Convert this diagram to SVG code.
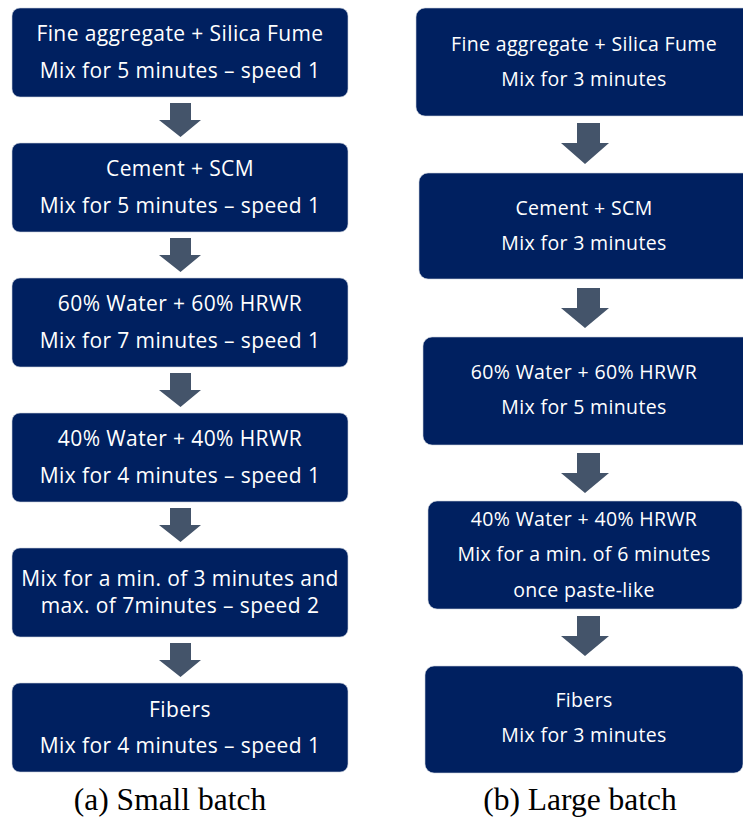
<svg xmlns="http://www.w3.org/2000/svg" width="743" height="818" viewBox="0 0 743 818">
<style>
.box{fill:#002060;stroke:#c9d0dc;stroke-width:0.6}
.arr{fill:#44546a}
.t{font-family:"Open Sans","Noto Sans",sans-serif;fill:#ffffff;text-anchor:middle}
.l{font-size:21px;letter-spacing:0.4px}
.r{font-size:19.5px;letter-spacing:0.35px}
.cap{font-family:"Liberation Serif","Times New Roman",serif;font-size:31.5px;fill:#000;text-anchor:middle}
</style>
<rect width="743" height="818" fill="#ffffff"/>
<g id="connectors">
<path class="arr" d="M170,103H191V120H201L180.5,137L159,120H170Z"/>
<path class="arr" d="M170,238H191V255H201L180.5,272L159,255H170Z"/>
<path class="arr" d="M170,373H191V390H201L180.5,407L159,390H170Z"/>
<path class="arr" d="M170,508H191V525H201L180.5,542L159,525H170Z"/>
<path class="arr" d="M170,643H191V660H201L180.5,677L159,660H170Z"/>
<path class="arr" d="M577,123H600V143H609L585,164L561,143H577Z"/>
<path class="arr" d="M577,288H600V308H609L585,328L561,308H577Z"/>
<path class="arr" d="M577,453H600V473H609L585,493L561,473H577Z"/>
<path class="arr" d="M577,616H600V636H609L585,656L561,636H577Z"/>
</g>
<g id="a1"><rect class="box" x="12" y="8" width="336" height="89" rx="8"/>
<text class="t l" x="180" y="41">Fine aggregate + Silica Fume</text>
<text class="t l" x="180" y="78">Mix for 5 minutes – speed 1</text></g>
<g id="a2"><rect class="box" x="12" y="143" width="336" height="89" rx="8"/>
<text class="t l" x="180" y="176">Cement + SCM</text>
<text class="t l" x="180" y="213">Mix for 5 minutes – speed 1</text></g>
<g id="a3"><rect class="box" x="12" y="278" width="336" height="89" rx="8"/>
<text class="t l" x="180" y="311">60% Water + 60% HRWR</text>
<text class="t l" x="180" y="348">Mix for 7 minutes – speed 1</text></g>
<g id="a4"><rect class="box" x="12" y="413" width="336" height="89" rx="8"/>
<text class="t l" x="180" y="446">40% Water + 40% HRWR</text>
<text class="t l" x="180" y="483">Mix for 4 minutes – speed 1</text></g>
<g id="a5"><rect class="box" x="12" y="548" width="336" height="89" rx="8"/>
<text class="t l" x="180" y="586">Mix for a min. of 3 minutes and</text>
<text class="t l" x="180" y="613">max. of 7minutes – speed 2</text></g>
<g id="a6"><rect class="box" x="12" y="683" width="336" height="89" rx="8"/>
<text class="t l" x="180" y="717">Fibers</text>
<text class="t l" x="180" y="753">Mix for 4 minutes – speed 1</text></g>
<g id="b1"><rect class="box" x="416" y="8" width="340" height="108" rx="9"/>
<text class="t r" x="584" y="51">Fine aggregate + Silica Fume</text>
<text class="t r" x="584" y="86">Mix for 3 minutes</text></g>
<g id="b2"><rect class="box" x="419" y="173" width="340" height="106" rx="9"/>
<text class="t r" x="584" y="215">Cement + SCM</text>
<text class="t r" x="584" y="250">Mix for 3 minutes</text></g>
<g id="b3"><rect class="box" x="423" y="337" width="340" height="108" rx="9"/>
<text class="t r" x="584" y="379">60% Water + 60% HRWR</text>
<text class="t r" x="584" y="414">Mix for 5 minutes</text></g>
<g id="b4"><rect class="box" x="428" y="501" width="314" height="108" rx="9"/>
<text class="t r" x="584" y="526">40% Water + 40% HRWR</text>
<text class="t r" x="584" y="561">Mix for a min. of 6 minutes</text>
<text class="t r" x="584" y="597">once paste-like</text></g>
<g id="b5"><rect class="box" x="425" y="666" width="318" height="107" rx="9"/>
<text class="t r" x="584" y="707">Fibers</text>
<text class="t r" x="584" y="742">Mix for 3 minutes</text></g>
<text class="cap" x="170" y="810">(a) Small batch</text>
<text class="cap" x="580" y="810">(b) Large batch</text>
</svg>
